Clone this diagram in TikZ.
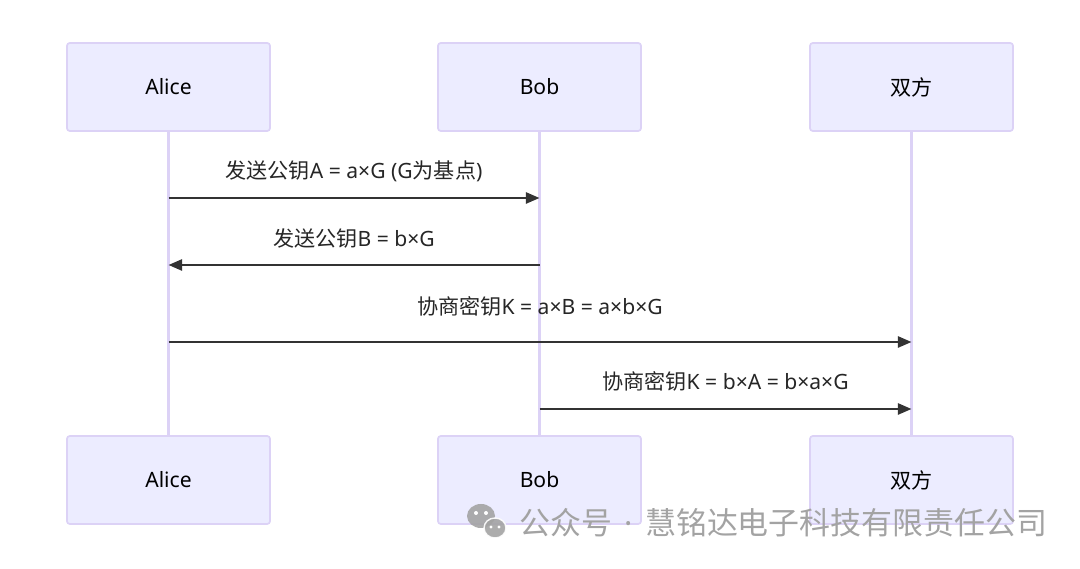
\documentclass[tikz,border=0pt]{standalone}
\usepackage{fontspec}
\setmainfont{Noto Sans}
\newfontfamily\cjk{Noto Sans CJK SC}
\newcommand{\zh}[1]{{\cjk #1}}
\usetikzlibrary{arrows.meta}

\definecolor{actorfill}{HTML}{ECECFF}
\definecolor{actorline}{HTML}{DCD2F6}
\definecolor{msgline}{HTML}{333333}
\definecolor{markgray}{HTML}{A3A3A3}

\begin{document}
\begin{tikzpicture}[
    x=0.025cm, y=-0.025cm,
    actor/.style={rectangle, draw=actorline, fill=actorfill, line width=1.2pt, rounded corners=2pt, minimum width=5.075cm, minimum height=2.2cm, font=\fontsize{15}{18}\selectfont},
    lifeline/.style={draw=actorline, line width=2pt},
    msg/.style={draw=msgline, line width=1.4pt, -{Triangle[length=0.34cm, width=0.28cm]}},
    lbl/.style={font=\fontsize{15}{18}\selectfont, text=black!85, inner sep=0pt}
]
    \useasboundingbox (0,0) rectangle (1080,569);

    % actors, top row and bottom row
    \node[actor] (aliceTop) at (168.5,87) {Alice};
    \node[actor] (bobTop) at (539.5,87) {Bob};
    \node[actor] (bothTop) at (911.5,87) {\zh{双方}};
    \node[actor] (aliceBot) at (168.5,480) {Alice};
    \node[actor] (bobBot) at (539.5,480) {Bob};
    \node[actor] (bothBot) at (911.5,480) {\zh{双方}};

    % lifelines
    \draw[lifeline] (aliceTop) -- (aliceBot);
    \draw[lifeline] (bobTop) -- (bobBot);
    \draw[lifeline] (bothTop) -- (bothBot);

    % message levels
    \coordinate (m1) at (0,198);
    \coordinate (m2) at (0,265);
    \coordinate (m3) at (0,342);
    \coordinate (m4) at (0,409);

    \draw[msg] (aliceTop |- m1) -- node[lbl, midway, yshift=0.68cm] (t1) {\zh{发送公钥}A = a×G (G\zh{为基点})} (bobTop |- m1);
    \draw[msg] (bobTop |- m2) -- node[lbl, midway, yshift=0.66cm] (t2) {\zh{发送公钥}B = b×G} (aliceTop |- m2);
    \draw[msg] (aliceTop |- m3) -- node[lbl, midway, yshift=0.9cm] (t3) {\zh{协商密钥}K = a×B = a×b×G} (bothTop |- m3);
    \draw[msg] (bobTop |- m4) -- node[lbl, midway, yshift=0.7cm] (t4) {\zh{协商密钥}K = b×A = b×a×G} (bothTop |- m4);

    % watermark
    \fill[markgray, opacity=0.9] (481,516) ellipse (14 and 12);
    \fill[markgray, opacity=0.9, draw=white, line width=1pt] (495,528) ellipse (11 and 10);
    \fill[white] (476,513) circle (2) (486,513) circle (2) (491,527) circle (1.6) (499,527) circle (1.6);
    \node[font=\fontsize{22}{24}\selectfont, text=markgray, anchor=west, inner sep=0pt] (mark) at (519,523) {\zh{公众号}\hspace{0.4em}·\hspace{0.4em}\zh{慧铭达电子科技有限责任公司}};
\end{tikzpicture}
\end{document}
